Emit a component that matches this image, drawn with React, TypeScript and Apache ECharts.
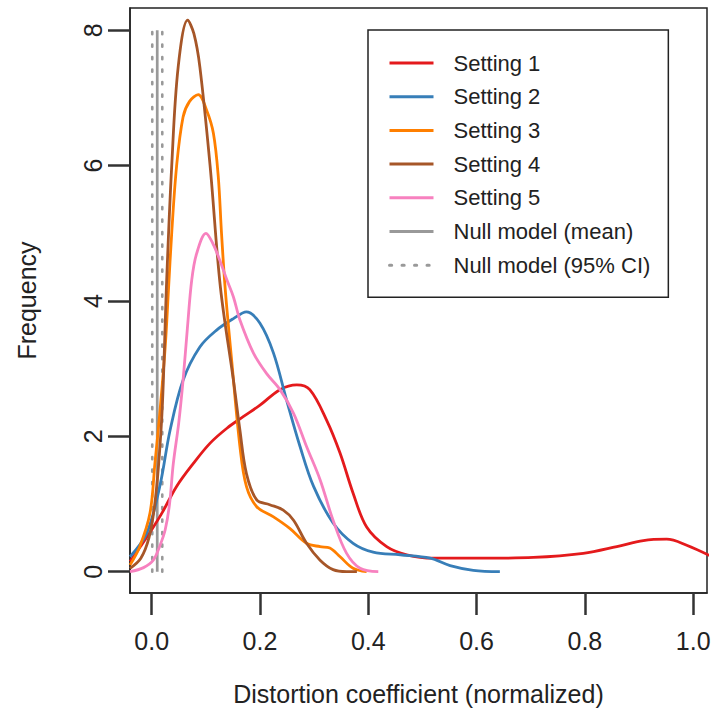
import React, { useEffect, useRef } from "react";
import * as echarts from "echarts";

// Axis ticks
const xTicks = [0, 0.2, 0.4, 0.6, 0.8, 1.0];
const yTicks = [0, 2, 4, 6, 8];

const seriesNames = ["Setting 1", "Setting 2", "Setting 3", "Setting 4", "Setting 5"];
const seriesColors = ["#E41A1C", "#377EB8", "#FF7F00", "#A65628", "#F781BF"];

// Density curves [x, density]
const setting1: [number, number][] = [
  [-0.04, 0.15], [-0.02, 0.38], [0.0, 0.62], [0.02, 0.88], [0.046, 1.26], [0.077, 1.6],
  [0.108, 1.9], [0.139, 2.12], [0.169, 2.29], [0.2, 2.46], [0.237, 2.69], [0.268, 2.76],
  [0.292, 2.69], [0.323, 2.24], [0.348, 1.75], [0.372, 1.16], [0.397, 0.66], [0.434, 0.37],
  [0.471, 0.25], [0.52, 0.2], [0.62, 0.2], [0.705, 0.21], [0.797, 0.27], [0.859, 0.37],
  [0.908, 0.46], [0.951, 0.48], [0.988, 0.39], [1.04, 0.2],
];
const setting2: [number, number][] = [
  [-0.04, 0.22], [-0.009, 0.57], [0.015, 1.26], [0.034, 2.09], [0.058, 2.83], [0.089, 3.32],
  [0.12, 3.57], [0.151, 3.74], [0.175, 3.84], [0.2, 3.67], [0.225, 3.23], [0.249, 2.54],
  [0.274, 1.85], [0.299, 1.26], [0.335, 0.72], [0.372, 0.42], [0.409, 0.29], [0.459, 0.25],
  [0.514, 0.2], [0.551, 0.09], [0.594, 0.02], [0.643, 0.0],
];
const setting3: [number, number][] = [
  [-0.04, 0.1], [-0.022, 0.37], [-0.003, 0.87], [0.006, 1.6], [0.015, 2.34], [0.025, 3.32],
  [0.031, 4.16], [0.037, 5.0], [0.046, 5.99], [0.058, 6.72], [0.07, 6.95], [0.086, 7.05],
  [0.1015, 6.82], [0.114, 6.48], [0.123, 5.84], [0.129, 5.0], [0.136, 4.16], [0.148, 3.1],
  [0.163, 1.85], [0.175, 1.26], [0.194, 0.96], [0.225, 0.81], [0.255, 0.64], [0.286, 0.42],
  [0.311, 0.37], [0.329, 0.35], [0.348, 0.22], [0.372, 0.05], [0.397, 0.0],
];
const setting4: [number, number][] = [
  [-0.04, 0.05], [-0.02, 0.2], [-0.005, 0.5], [0.005, 0.95], [0.013, 1.6], [0.02, 2.5],
  [0.0277, 4.3], [0.037, 5.99], [0.049, 7.46], [0.0665, 8.15], [0.078, 7.95], [0.089, 7.46],
  [0.108, 5.99], [0.127, 4.2], [0.151, 2.83], [0.163, 2.09], [0.175, 1.45], [0.194, 1.06],
  [0.218, 0.99], [0.243, 0.91], [0.262, 0.76], [0.286, 0.42], [0.311, 0.17], [0.335, 0.03],
  [0.36, 0.0], [0.379, 0.0],
];
const setting5: [number, number][] = [
  [-0.04, 0.0], [-0.015, 0.06], [0.003, 0.17], [0.015, 0.38], [0.025, 0.62], [0.033, 1.0],
  [0.04, 1.6], [0.05, 2.2], [0.058, 2.83], [0.066, 3.6], [0.074, 4.31], [0.083, 4.7],
  [0.1003, 5.0], [0.113, 4.85], [0.126, 4.6], [0.139, 4.31], [0.151, 4.06], [0.163, 3.72],
  [0.188, 3.23], [0.212, 2.93], [0.237, 2.69], [0.262, 2.34], [0.286, 1.85], [0.311, 1.36],
  [0.335, 0.76], [0.36, 0.27], [0.385, 0.05], [0.4185, 0.0],
];
const settingsData = [setting1, setting2, setting3, setting4, setting5];

// Null model
const nullMeanX = 0.0103;
const nullCIX = [0.0011, 0.0196];
const nullYSpan = [0, 8];
const nullMeanName = "Null model (mean)";
const nullCIName = "Null model (95% CI)";

const FONT = "'Liberation Sans', Arial, Helvetica, sans-serif";
const TEXT = "#222";
const AXIS = "#222";
const TICK = { color: "#333333", width: 2.5 };

export default function App() {
  const ref = useRef<HTMLDivElement>(null);
  useEffect(() => {
    if (!ref.current) return;
    const chart = echarts.init(ref.current, undefined, { renderer: "svg" });
    const nullSeries: any[] = [
      ...nullCIX.map((x) => ({
        name: nullCIName,
        type: "line",
        symbol: "none",
        data: nullYSpan.map((y) => [x, y]),
        lineStyle: { color: "#999999", width: 2.6, type: [2.2, 10.3], cap: "round" },
        itemStyle: { color: "#999999" },
        z: 2,
      })),
      {
        name: nullMeanName,
        type: "line",
        symbol: "none",
        data: nullYSpan.map((y) => [nullMeanX, y]),
        lineStyle: { color: "#999999", width: 2.7 },
        itemStyle: { color: "#999999" },
        z: 2,
      },
    ];
    const curves = settingsData.map((d, i) => ({
      name: seriesNames[i],
      type: "line",
      symbol: "none",
      smooth: 0.35,
      data: d,
      lineStyle: { color: seriesColors[i], width: 2.8 },
      itemStyle: { color: seriesColors[i] },
      z: 3,
    }));
    chart.setOption({
      animation: false,
      textStyle: { fontFamily: FONT },
      grid: {
        left: 130,
        top: 8,
        right: 8,
        bottom: 130,
        show: true,
        borderColor: AXIS,
        borderWidth: 1.5,
      },
      legend: {
        left: 368,
        top: 30,
        orient: "vertical",
        data: [...seriesNames, nullMeanName, nullCIName],
        itemWidth: 44,
        itemHeight: 22,
        itemGap: 11.7,
        padding: [22, 18, 21, 20],
        borderColor: AXIS,
        borderWidth: 1.5,
        selectedMode: false,
        itemStyle: { color: "transparent", borderColor: "transparent", borderWidth: 0, opacity: 0 },
        lineStyle: { width: 3 },
        textStyle: {
          fontFamily: FONT,
          fontSize: 22,
          color: TEXT,
          lineHeight: 22,
          padding: [0, 0, 0, 15],
        },
      },
      xAxis: {
        type: "value",
        min: -0.04,
        max: 1.0255,
        name: "Distortion coefficient (normalized)",
        nameLocation: "middle",
        nameGap: 88,
        nameTextStyle: { fontFamily: FONT, fontSize: 25, color: TEXT },
        axisLine: { show: true, onZero: false, lineStyle: { color: AXIS, width: 1.5 } },
        splitLine: { show: false },
        axisTick: {
          show: true,
          length: 22,
          customValues: xTicks,
          lineStyle: TICK,
        },
        axisLabel: {
          customValues: xTicks,
          margin: 35,
          fontFamily: FONT,
          fontSize: 25,
          color: TEXT,
          formatter: (v: number) => v.toFixed(1),
        },
      },
      yAxis: {
        type: "value",
        min: -0.315,
        max: 8.33,
        name: "Frequency",
        nameLocation: "middle",
        nameGap: 91,
        nameTextStyle: { fontFamily: FONT, fontSize: 25, color: TEXT },
        axisLine: { show: true, onZero: false, lineStyle: { color: AXIS, width: 1.5 } },
        splitLine: { show: false },
        axisTick: {
          show: true,
          length: 22,
          customValues: yTicks,
          lineStyle: TICK,
        },
        axisLabel: {
          customValues: yTicks,
          rotate: 90,
          margin: 25,
          fontFamily: FONT,
          fontSize: 25,
          color: TEXT,
          formatter: (v: number) => String(v),
        },
      },
      series: [...nullSeries, ...curves],
    });
    return () => chart.dispose();
  }, []);
  return (
    <div
      ref={ref}
      style={{ position: "absolute", left: 0, top: 0, width: 715, height: 723, background: "#fff" }}
    />
  );
}
